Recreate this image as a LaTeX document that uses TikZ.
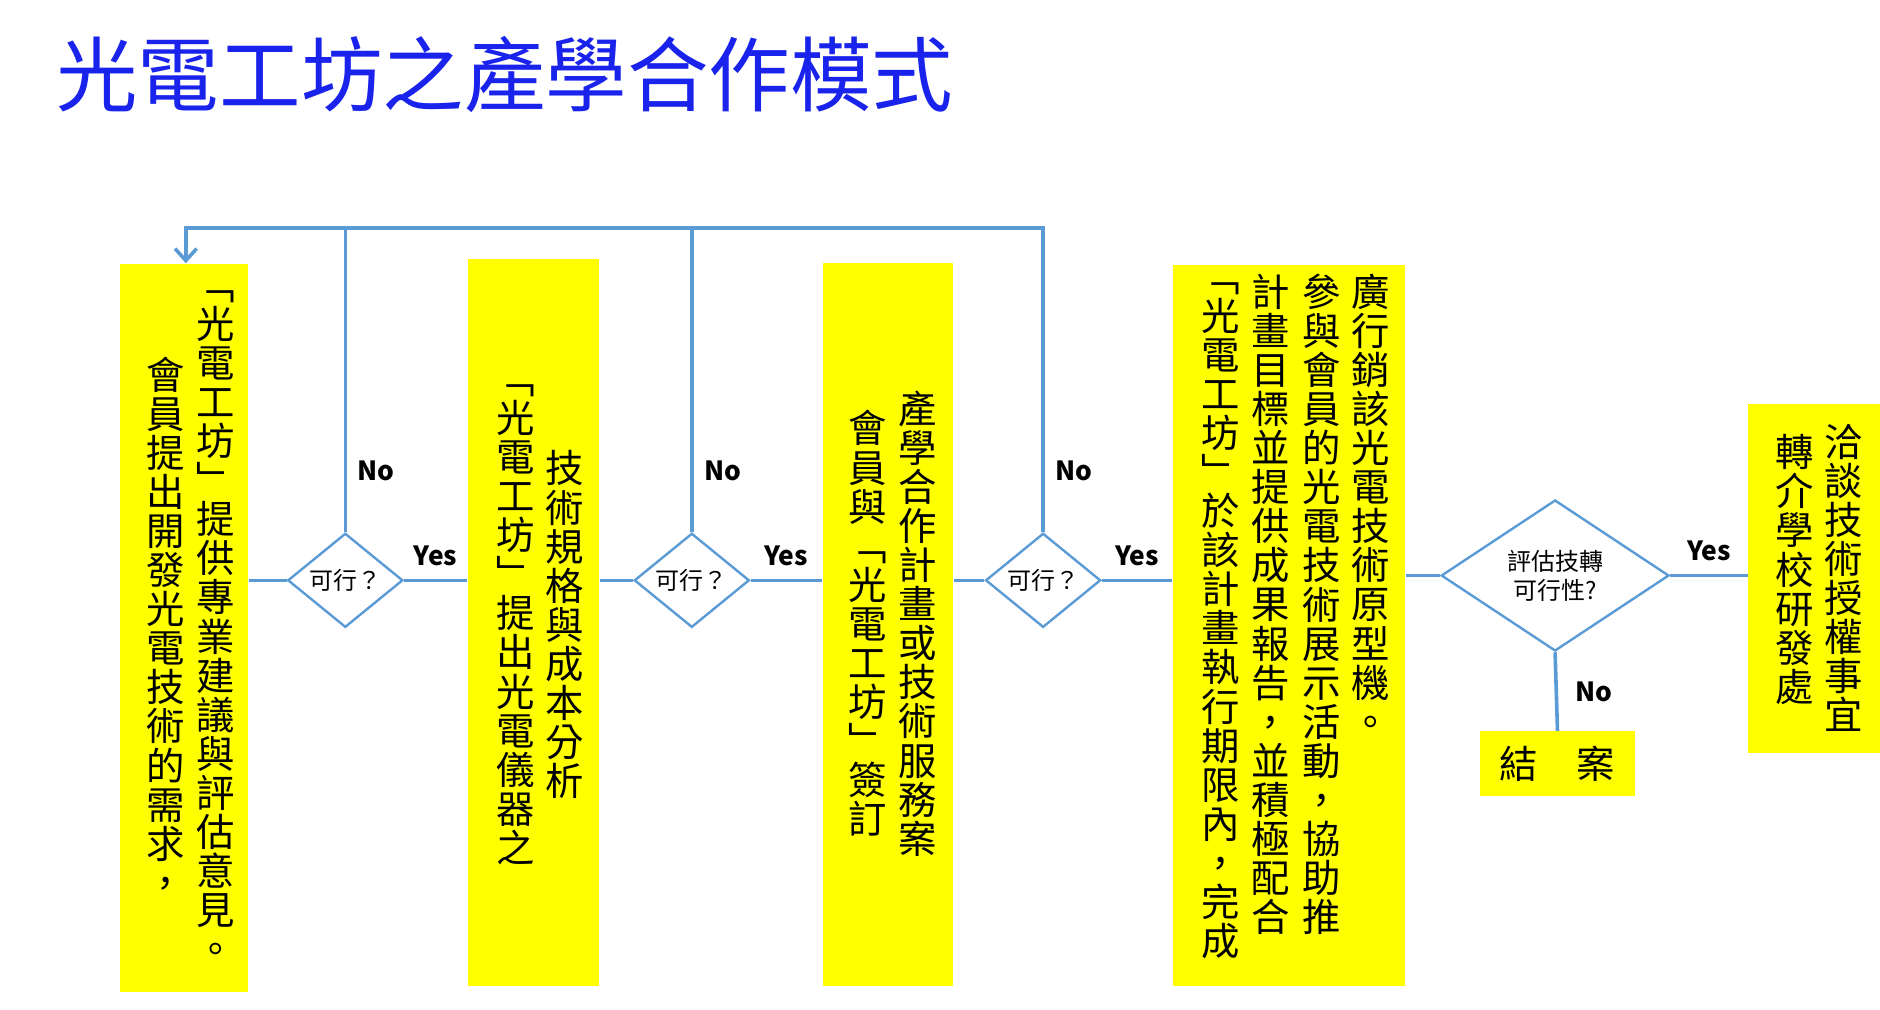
\documentclass[tikz,border=0pt]{standalone}
\usepackage{fontspec}
\setmainfont{Noto Sans CJK TC}
\usepackage{tikz}
\usetikzlibrary{shapes.geometric,arrows.meta}
\definecolor{linkblue}{RGB}{91,155,213}
\definecolor{titleblue}{RGB}{25,35,235}
\definecolor{boxyellow}{RGB}{255,255,0}
\makeatletter
\def\vcol#1{\vc@#1\vc@end}
\def\vc@#1#2\vc@end{#1\ifx\relax#2\relax\else\\\vc@#2\vc@end\fi}
\makeatother
\tikzset{
  stepbox/.style = {fill = boxyellow, inner sep = 0pt},
  col/.style = {text width = 1.1em, align = center, inner sep = 0pt,
    font = \fontsize{16}{16.3}\selectfont},
  test/.style = {diamond, draw = linkblue, line width = 1pt, fill = white,
    inner sep = 0pt, font = \fontsize{10}{12}\selectfont},
  link/.style = {draw = linkblue, line width = 1.5pt},
  lbl/.style = {font = \bfseries\fontsize{11}{12}\selectfont}
}
\begin{document}
\begin{tikzpicture}[x = 0.5pt, y = -0.5pt]
        \useasboundingbox (0,0) rectangle (1568,842);
        \node[anchor = west, text = titleblue, font = \fontsize{34}{38}\selectfont]
          (title) at (40,62) {光電工坊之產學合作模式};

        % boxes
        \node[stepbox, minimum width = 53.5pt, minimum height = 303.5pt] (b1) at (153.5,523.5) {};
        \node[stepbox, minimum width = 55pt, minimum height = 303pt] (b2) at (445,519) {};
        \node[stepbox, minimum width = 54.5pt, minimum height = 301.5pt] (b3) at (740.5,520.5) {};
        \node[stepbox, minimum width = 97pt, minimum height = 300.5pt] (b4) at (1075,521.5) {};
        \node[stepbox, minimum width = 55pt, minimum height = 145.5pt] (b5) at (1513,482.5) {};
        \node[stepbox, minimum width = 65pt, minimum height = 27pt,
          font = \fontsize{16}{18}\selectfont] (end) at (1299,637) {結\quad 案};

        % columns
        \node[col] (c11) at (175,523) {\vcol{﹁光電工坊﹂提供專業建議與評估意見。}};
        \node[col] (c12) at (133,523) {\vcol{會員提出開發光電技術的需求，}};
        \node[col] (c21) at (466,521) {\vcol{技術規格與成本分析}};
        \node[col] (c22) at (425,521) {\vcol{﹁光電工坊﹂提出光電儀器之}};
        \node[col] (c31) at (760,520) {\vcol{產學合作計畫或技術服務案}};
        \node[col] (c32) at (719,520) {\vcol{會員與﹁光電工坊﹂簽訂}};
        \node[col, anchor = north] (c41) at (1138,228) {\vcol{廣行銷該光電技術原型機。}};
        \node[col, anchor = north] (c42) at (1097,228) {\vcol{參與會員的光電技術展示活動，協助推}};
        \node[col, anchor = north] (c43) at (1055,228) {\vcol{計畫目標並提供成果報告，並積極配合}};
        \node[col, anchor = north] (c44) at (1013,235) {\vcol{﹁光電工坊﹂於該計畫執行期限內，完成}};
        \node[col] (c51) at (1533,482) {\vcol{洽談技術授權事宜}};
        \node[col] (c52) at (1492,475) {\vcol{轉介學校研發處}};

        % decisions
        \node[test, minimum width = 48pt, minimum height = 38pt] (d1) at (288,484) {可行？};
        \node[test, minimum width = 48pt, minimum height = 38pt] (d2) at (577,484) {可行？};
        \node[test, minimum width = 48pt, minimum height = 38pt] (d3) at (870,484) {可行？};
        \node[test, minimum width = 95pt, minimum height = 63pt, align = center] (d4) at (1297,480) {評估技轉\\可行性?};

        % connectors
        \coordinate (top) at (155,190);
        \draw[link] (d1.west) -- (d1.west -| b1.east);
        \draw[link] (d1.east) -- node[lbl, above = 2pt]{Yes} (d1.east -| b2.west);
        \draw[link] (d2.west) -- (d2.west -| b2.east);
        \draw[link] (d2.east) -- node[lbl, above = 2pt]{Yes} (d2.east -| b3.west);
        \draw[link] (d3.west) -- (d3.west -| b3.east);
        \draw[link] (d3.east) -- node[lbl, above = 2pt]{Yes} (d3.east -| b4.west);
        \draw[link] (d4.west) -- (d4.west -| b4.east);
        \draw[link] (d4.east) -- node[lbl, above = 2pt]{Yes} (d4.east -| b5.west);
        \draw[link] (d4.south) -- node[lbl, right = 4pt]{No} (end.north);
        \draw[link] (d1.north) -- node[lbl, pos = 0.2, right = 1pt]{No} (d1.north |- top);
        \draw[link] (d2.north) -- node[lbl, pos = 0.2, right = 1pt]{No} (d2.north |- top);
        \draw[link, -{Straight Barb[length = 5pt, width = 9pt]}]
          (d3.north) -- node[lbl, pos = 0.2, right = 1pt]{No}
          (d3.north |- top) -- (top) -- (top |- b1.north);
\end{tikzpicture}
\end{document}
